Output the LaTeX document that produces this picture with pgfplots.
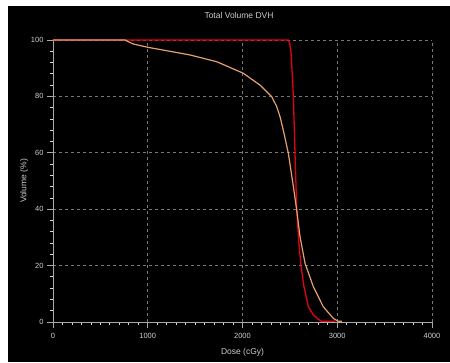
\documentclass[border=0pt]{standalone}
\usepackage{pgfplots}
\pgfplotsset{compat=1.18}
\usepackage{fontspec}
\setmainfont{Liberation Sans}
\definecolor{txt}{RGB}{205,205,210}
\definecolor{gridc}{RGB}{120,120,120}
\definecolor{axc}{RGB}{170,170,170}
\definecolor{redc}{RGB}{230,0,20}
\definecolor{tanc}{RGB}{230,160,110}
\begin{document}
\begin{tikzpicture}[x=1pt,y=1pt]
\path[use as bounding box] (0,0) rectangle (450,362);
\fill[white] (0,0) rectangle (450,362);
\fill[black] (8,0) rectangle (450,356);
\node[text=txt,font=\fontsize{8.5}{10}\selectfont] at (239,347) {Total Volume DVH};
\begin{axis}[
  scale only axis,
  width=379pt, height=282pt,
  at={(53pt,40pt)}, anchor=south west,
  xmin=0, xmax=4000, ymin=0, ymax=100,
  axis lines=left,
  axis line style={axc, line width=0.8pt, -},
  xtick={0,1000,2000,3000,4000},
  ytick={0,20,40,60,80,100},
  minor x tick num=9,
  minor y tick num=4,
  tick style={axc, line width=0.8pt},
  major tick length=6pt,
  minor tick length=3pt,
  tick align=outside,
  minor tick style={tick align=center, white!85!black},
  grid=major,
  major grid style={gridc, dashed, line width=0.6pt, dash pattern=on 3pt off 3pt},
  ticklabel style={text=txt, font=\fontsize{7.5}{9}\selectfont},
  xticklabel style={yshift=-2pt},
  /pgf/number format/assume math mode=true,
  /pgf/number format/1000 sep={},
  xlabel={Dose (cGy)},
  ylabel={Volume (\%)},
  label style={text=txt, font=\fontsize{8.5}{10}\selectfont},
  xlabel style={at={(axis description cs:0.5,0)}, anchor=center, yshift=-30pt},
  ylabel style={yshift=-4pt},
  clip=false,
]
\addplot[redc, line width=1.3pt] coordinates {
(0,100) (2484,100) (2500,98.5) (2512,95.4) (2525,88) (2537,80) (2554,60) (2572,40) (2595,28) (2617,20) (2649,12.5) (2695,5.4) (2748,2.5) (2800,1.0) (2830,0.3) (2980,0.3)
};
\addplot[tanc, line width=1.2pt] coordinates {
(0,100) (760,100) (845,98.6) (1003,97.4) (1200,96.2) (1446,94.7) (1728,92.3) (2009,88.2) (2185,84.0) (2308,79.9) (2360,76.5) (2396,72.8) (2430,68.1) (2484,59.8) (2537,48) (2572,39.7) (2607,30.3) (2660,20.8) (2748,12.5) (2853,5.4) (2958,1.3) (3008,0.3) (3050,0.3)
};
\end{axis}
\end{tikzpicture}
\end{document}
